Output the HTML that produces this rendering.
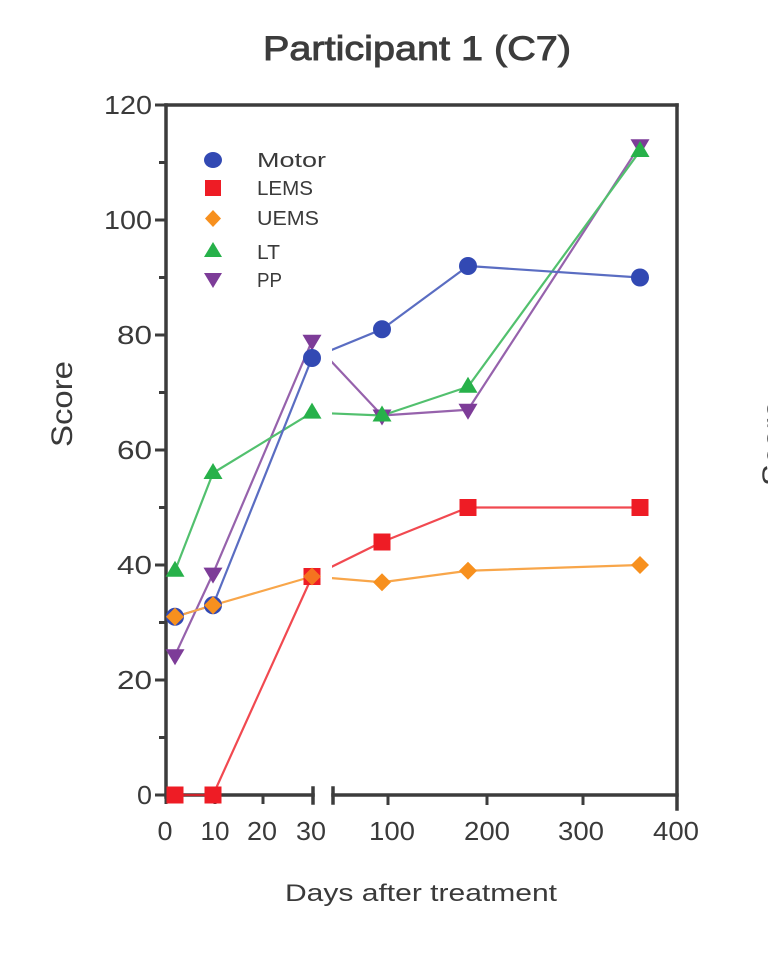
<!DOCTYPE html>
<html>
<head>
<meta charset="utf-8">
<style>
html,body{margin:0;padding:0;background:#fff;}
svg{display:block;}
text{font-family:"Liberation Sans",Arial,sans-serif;fill:#3a3a3a;}
</style>
</head>
<body>
<svg width="768" height="966" viewBox="0 0 768 966" xmlns="http://www.w3.org/2000/svg">
<defs>
  <clipPath id="c1"><rect x="0" y="0" width="313" height="966"/></clipPath>
  <clipPath id="c2"><rect x="332" y="0" width="436" height="966"/></clipPath>
</defs>

<text x="417" y="60" font-size="34" text-anchor="middle" textLength="308" lengthAdjust="spacingAndGlyphs" style="fill:#3c3c3c;stroke:#3c3c3c;stroke-width:0.9">Participant 1 (C7)</text>

<g stroke="#3c3c3c" stroke-width="3.5" fill="none" stroke-linecap="square">
  <line x1="166" y1="105" x2="166" y2="797"/>
  <line x1="166" y1="105" x2="677" y2="105"/>
  <line x1="677" y1="105" x2="677" y2="809"/>
  <line x1="166" y1="795" x2="313" y2="795"/>
  <line x1="313" y1="788" x2="313" y2="803"/>
  <line x1="333" y1="795" x2="677" y2="795"/>
  <line x1="333" y1="788" x2="333" y2="803"/>
</g>
<g stroke="#3c3c3c" stroke-width="3">
  <line x1="155" y1="105" x2="166" y2="105"/>
  <line x1="155" y1="220" x2="166" y2="220"/>
  <line x1="155" y1="335" x2="166" y2="335"/>
  <line x1="155" y1="450" x2="166" y2="450"/>
  <line x1="155" y1="565" x2="166" y2="565"/>
  <line x1="155" y1="680" x2="166" y2="680"/>
  <line x1="155" y1="795" x2="166" y2="795"/>
  <line x1="159" y1="162.5" x2="166" y2="162.5"/>
  <line x1="159" y1="277.5" x2="166" y2="277.5"/>
  <line x1="159" y1="392.5" x2="166" y2="392.5"/>
  <line x1="159" y1="507.5" x2="166" y2="507.5"/>
  <line x1="159" y1="622.5" x2="166" y2="622.5"/>
  <line x1="159" y1="737.5" x2="166" y2="737.5"/>
  <line x1="166" y1="795" x2="166" y2="804"/>
  <line x1="215" y1="795" x2="215" y2="804"/>
  <line x1="263" y1="795" x2="263" y2="804"/>
  <line x1="388" y1="795" x2="388" y2="805"/>
  <line x1="487" y1="795" x2="487" y2="805"/>
  <line x1="583" y1="795" x2="583" y2="805"/>
</g>

<g font-size="26" text-anchor="end">
  <text x="152" y="114" textLength="48" lengthAdjust="spacingAndGlyphs">120</text>
  <text x="152" y="229" textLength="48" lengthAdjust="spacingAndGlyphs">100</text>
  <text x="152" y="344" textLength="35" lengthAdjust="spacingAndGlyphs">80</text>
  <text x="152" y="459" textLength="35" lengthAdjust="spacingAndGlyphs">60</text>
  <text x="152" y="574" textLength="35" lengthAdjust="spacingAndGlyphs">40</text>
  <text x="152" y="689" textLength="35" lengthAdjust="spacingAndGlyphs">20</text>
  <text x="152" y="804" textLength="15" lengthAdjust="spacingAndGlyphs">0</text>
</g>

<g font-size="26" text-anchor="middle">
  <text x="165" y="840" textLength="15" lengthAdjust="spacingAndGlyphs">0</text>
  <text x="215" y="840" textLength="29" lengthAdjust="spacingAndGlyphs">10</text>
  <text x="262" y="840" textLength="30" lengthAdjust="spacingAndGlyphs">20</text>
  <text x="311" y="840" textLength="30" lengthAdjust="spacingAndGlyphs">30</text>
  <text x="392" y="840" textLength="46" lengthAdjust="spacingAndGlyphs">100</text>
  <text x="487" y="840" textLength="46" lengthAdjust="spacingAndGlyphs">200</text>
  <text x="581" y="840" textLength="46" lengthAdjust="spacingAndGlyphs">300</text>
  <text x="676" y="840" textLength="46" lengthAdjust="spacingAndGlyphs">400</text>
</g>

<text x="285" y="901" font-size="24" textLength="272" lengthAdjust="spacingAndGlyphs">Days after treatment</text>
<text transform="translate(72,404) rotate(-90)" font-size="30" text-anchor="middle" textLength="86" lengthAdjust="spacingAndGlyphs">Score</text>

<text transform="translate(783,443) rotate(-90)" font-size="30" text-anchor="middle" textLength="86" lengthAdjust="spacingAndGlyphs">Score</text>

<g fill="none" stroke-width="2.2" stroke-linejoin="round" opacity="0.8">
  <g clip-path="url(#c1)">
    <polyline stroke="#7d3c98" points="175,655.3 213,573.6 312,340.75 382,415.5 468,409.75 640,145.25"/>
    <polyline stroke="#27b14a" points="175,570.75 213,473 312,412.6 382,415.5 468,386.75 640,151"/>
    <polyline stroke="#3249b3" points="175,616.75 213,605.25 312,358 382,329.25 468,266 640,277.5"/>
    <polyline stroke="#ee1c25" points="175,795 213,795 312,576.5 382,542 468,507.5 640,507.5"/>
    <polyline stroke="#f7901e" points="175,616.75 213,605.25 312,576.5 382,582.25 468,570.75 640,565"/>
  </g>
  <g clip-path="url(#c2)">
    <polyline stroke="#7d3c98" points="175,655.3 213,573.6 312,340.75 382,415.5 468,409.75 640,145.25"/>
    <polyline stroke="#27b14a" points="175,570.75 213,473 312,412.6 382,415.5 468,386.75 640,151"/>
    <polyline stroke="#3249b3" points="175,616.75 213,605.25 312,358 382,329.25 468,266 640,277.5"/>
    <polyline stroke="#ee1c25" points="175,795 213,795 312,576.5 382,542 468,507.5 640,507.5"/>
    <polyline stroke="#f7901e" points="175,616.75 213,605.25 312,576.5 382,582.25 468,570.75 640,565"/>
  </g>
</g>

<g fill="#7d3c98">
  <polygon points="165.5,649.3 184.5,649.3 175,665.3"/>
  <polygon points="203.5,567.6 222.5,567.6 213,583.6"/>
  <polygon points="302.5,334.75 321.5,334.75 312,350.75"/>
  <polygon points="372.5,409.5 391.5,409.5 382,425.5"/>
  <polygon points="458.5,403.75 477.5,403.75 468,419.75"/>
  <polygon points="630.5,139.25 649.5,139.25 640,155.25"/>
</g>
<g fill="#27b14a">
  <polygon points="165.5,576.75 184.5,576.75 175,560.75"/>
  <polygon points="203.5,479 222.5,479 213,463"/>
  <polygon points="302.5,418.6 321.5,418.6 312,402.6"/>
  <polygon points="372.5,421.5 391.5,421.5 382,405.5"/>
  <polygon points="458.5,392.75 477.5,392.75 468,376.75"/>
  <polygon points="630.5,157 649.5,157 640,141"/>
</g>
<g fill="#3249b3">
  <circle cx="175" cy="616.75" r="9"/>
  <circle cx="213" cy="605.25" r="9"/>
  <circle cx="312" cy="358" r="9"/>
  <circle cx="382" cy="329.25" r="9"/>
  <circle cx="468" cy="266" r="9"/>
  <circle cx="640" cy="277.5" r="9"/>
</g>
<g fill="#ee1c25">
  <rect x="166.5" y="786.5" width="17" height="17"/>
  <rect x="204.5" y="786.5" width="17" height="17"/>
  <rect x="303.5" y="568" width="17" height="17"/>
  <rect x="373.5" y="533.5" width="17" height="17"/>
  <rect x="459.5" y="499" width="17" height="17"/>
  <rect x="631.5" y="499" width="17" height="17"/>
</g>
<g fill="#f7901e">
  <polygon points="175,607.75 184,616.75 175,625.75 166,616.75"/>
  <polygon points="213,596.25 222,605.25 213,614.25 204,605.25"/>
  <polygon points="312,567.5 321,576.5 312,585.5 303,576.5" opacity="0.75"/>
  <polygon points="382,573.25 391,582.25 382,591.25 373,582.25"/>
  <polygon points="468,561.75 477,570.75 468,579.75 459,570.75"/>
  <polygon points="640,556 649,565 640,574 631,565"/>
</g>

<ellipse cx="213" cy="160" rx="9" ry="8" fill="#3249b3"/>
<rect x="205" y="180" width="16" height="16" fill="#ee1c25"/>
<polygon points="213,210 221,218.5 213,227 205,218.5" fill="#f7901e"/>
<polygon points="204,257 222,257 213,242" fill="#27b14a"/>
<polygon points="204,273 222,273 213,288" fill="#7d3c98"/>
<g font-size="20">
  <text x="257" y="167" textLength="69" lengthAdjust="spacingAndGlyphs">Motor</text>
  <text x="257" y="195" textLength="56" lengthAdjust="spacingAndGlyphs">LEMS</text>
  <text x="257" y="225" textLength="62" lengthAdjust="spacingAndGlyphs">UEMS</text>
  <text x="257" y="259" textLength="23" lengthAdjust="spacingAndGlyphs">LT</text>
  <text x="257" y="287" textLength="25" lengthAdjust="spacingAndGlyphs">PP</text>
</g>
</svg>
</body>
</html>
